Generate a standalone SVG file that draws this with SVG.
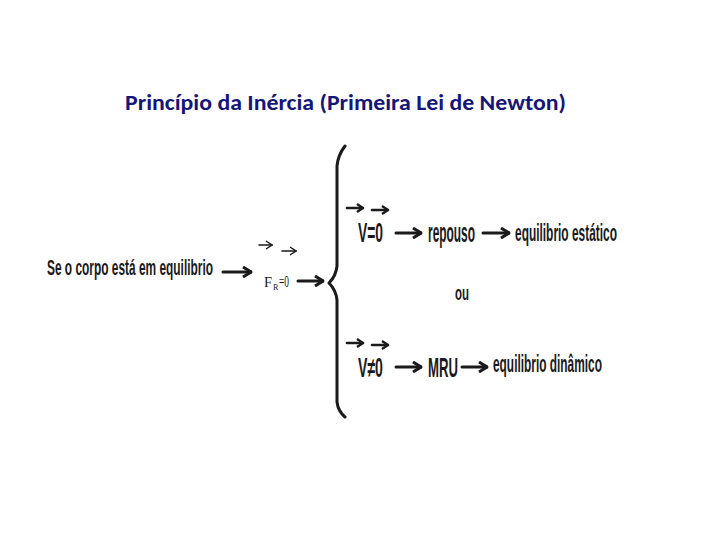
<svg xmlns="http://www.w3.org/2000/svg" width="720" height="540" viewBox="0 0 720 540">
<style>
.title{font-family:Carlito,Lato,"Liberation Sans",sans-serif;font-weight:bold;font-size:22px;fill:#15157a}
.t{font-family:"Liberation Sans Narrow","Liberation Sans",Arial,sans-serif;font-weight:bold;fill:#1a1a1a}
.serif{font-family:"Liberation Serif","Times New Roman",serif;fill:#1a1a1a}
.arr{fill:none;stroke:#1a1a1a;stroke-width:3;stroke-linecap:round}
.vec{fill:none;stroke:#1a1a1a;stroke-width:2.6;stroke-linecap:round}
.thin{fill:none;stroke:#1a1a1a;stroke-width:1.6;stroke-linecap:round}
.brace{fill:none;stroke:#1a1a1a;stroke-width:3;stroke-linejoin:round;stroke-linecap:round}
</style>
<defs>
<marker id="ah" markerUnits="userSpaceOnUse" viewBox="0 0 10 12" refX="9" refY="6" markerWidth="10" markerHeight="12" orient="auto">
<path d="M1,1 L9,6 L1,11" fill="none" stroke="#1a1a1a" stroke-width="3" stroke-linejoin="miter"/>
</marker>
<marker id="ahs" markerUnits="userSpaceOnUse" viewBox="0 0 8 10" refX="7" refY="5" markerWidth="8" markerHeight="10" orient="auto">
<path d="M1,1 L7,5 L1,9" fill="none" stroke="#1a1a1a" stroke-width="2.4"/>
</marker>
<marker id="aht" markerUnits="userSpaceOnUse" viewBox="0 0 8 10" refX="7" refY="5" markerWidth="8" markerHeight="10" orient="auto">
<path d="M1,1 L7,5 L1,9" fill="none" stroke="#1a1a1a" stroke-width="1.5"/>
</marker>
</defs>
<rect width="720" height="540" fill="#ffffff"/>
<g id="title">
<text class="title" x="125" y="110" textLength="441" lengthAdjust="spacingAndGlyphs">Princípio da Inércia (Primeira Lei de Newton)</text>
</g>
<g id="node-equilibrio">
<text class="t" transform="translate(47,275) scale(0.66,1)" font-size="22" textLength="251.5" lengthAdjust="spacingAndGlyphs">Se o corpo está em equilibrio</text>
</g>
<g id="node-fr">
<path class="thin" d="M259,245 L272,245" marker-end="url(#aht)"/>
<path class="thin" d="M282,251 L296,251" marker-end="url(#aht)"/>
<text class="serif" x="264" y="287" font-size="15" textLength="8" lengthAdjust="spacingAndGlyphs">F</text>
<text class="serif" x="273" y="290" font-size="9" textLength="5.5" lengthAdjust="spacingAndGlyphs">R</text>
<text class="serif" transform="translate(279,287) scale(0.6,1)" font-size="16" textLength="16.7" lengthAdjust="spacingAndGlyphs">=0</text>
</g>
<g id="brace">
<path class="brace" d="M345,146 Q338,155 337,166 L337,266 Q336,276 329,283 Q336,290 337,300 L337,402 Q338,411 345,417"/>
</g>
<g id="node-v0">
<path class="vec" d="M347,208 L363,208" marker-end="url(#ahs)"/>
<path class="vec" d="M372,210 L388,210" marker-end="url(#ahs)"/>
<text class="t" transform="translate(358,242) scale(0.625,1)" font-size="27" textLength="40" lengthAdjust="spacingAndGlyphs">V=0</text>
</g>
<g id="node-repouso">
<text class="t" transform="translate(428,242) scale(0.54,1)" font-size="27" textLength="87" lengthAdjust="spacingAndGlyphs">repouso</text>
</g>
<g id="node-estatico">
<text class="t" transform="translate(515,241) scale(0.606,1)" font-size="24" textLength="168.3" lengthAdjust="spacingAndGlyphs">equilibrio estático</text>
</g>
<g id="node-ou">
<text class="t" transform="translate(455,300) scale(0.7,1)" font-size="20" textLength="20" lengthAdjust="spacingAndGlyphs">ou</text>
</g>
<g id="node-vne0">
<path class="vec" d="M347,343 L363,343" marker-end="url(#ahs)"/>
<path class="vec" d="M372,345 L388,345" marker-end="url(#ahs)"/>
<text class="t" transform="translate(358,377) scale(0.64,1)" font-size="27" textLength="39" lengthAdjust="spacingAndGlyphs">V≠0</text>
</g>
<g id="node-mru">
<text class="t" transform="translate(428,377) scale(0.6,1)" font-size="27" textLength="50" lengthAdjust="spacingAndGlyphs">MRU</text>
</g>
<g id="node-dinamico">
<text class="t" transform="translate(493,372) scale(0.63,1)" font-size="23" textLength="173" lengthAdjust="spacingAndGlyphs">equilibrio dinâmico</text>
</g>
<g id="connectors">
<path class="arr" d="M223,272 L251,272" marker-end="url(#ah)"/>
<path class="arr" d="M298,281 L323,281" marker-end="url(#ah)"/>
<path class="arr" d="M396,233 L421,233" marker-end="url(#ah)"/>
<path class="arr" d="M483,233 L509,233" marker-end="url(#ah)"/>
<path class="arr" d="M396,367 L421,367" marker-end="url(#ah)"/>
<path class="arr" d="M462,367 L487,367" marker-end="url(#ah)"/>
</g>
</svg>
